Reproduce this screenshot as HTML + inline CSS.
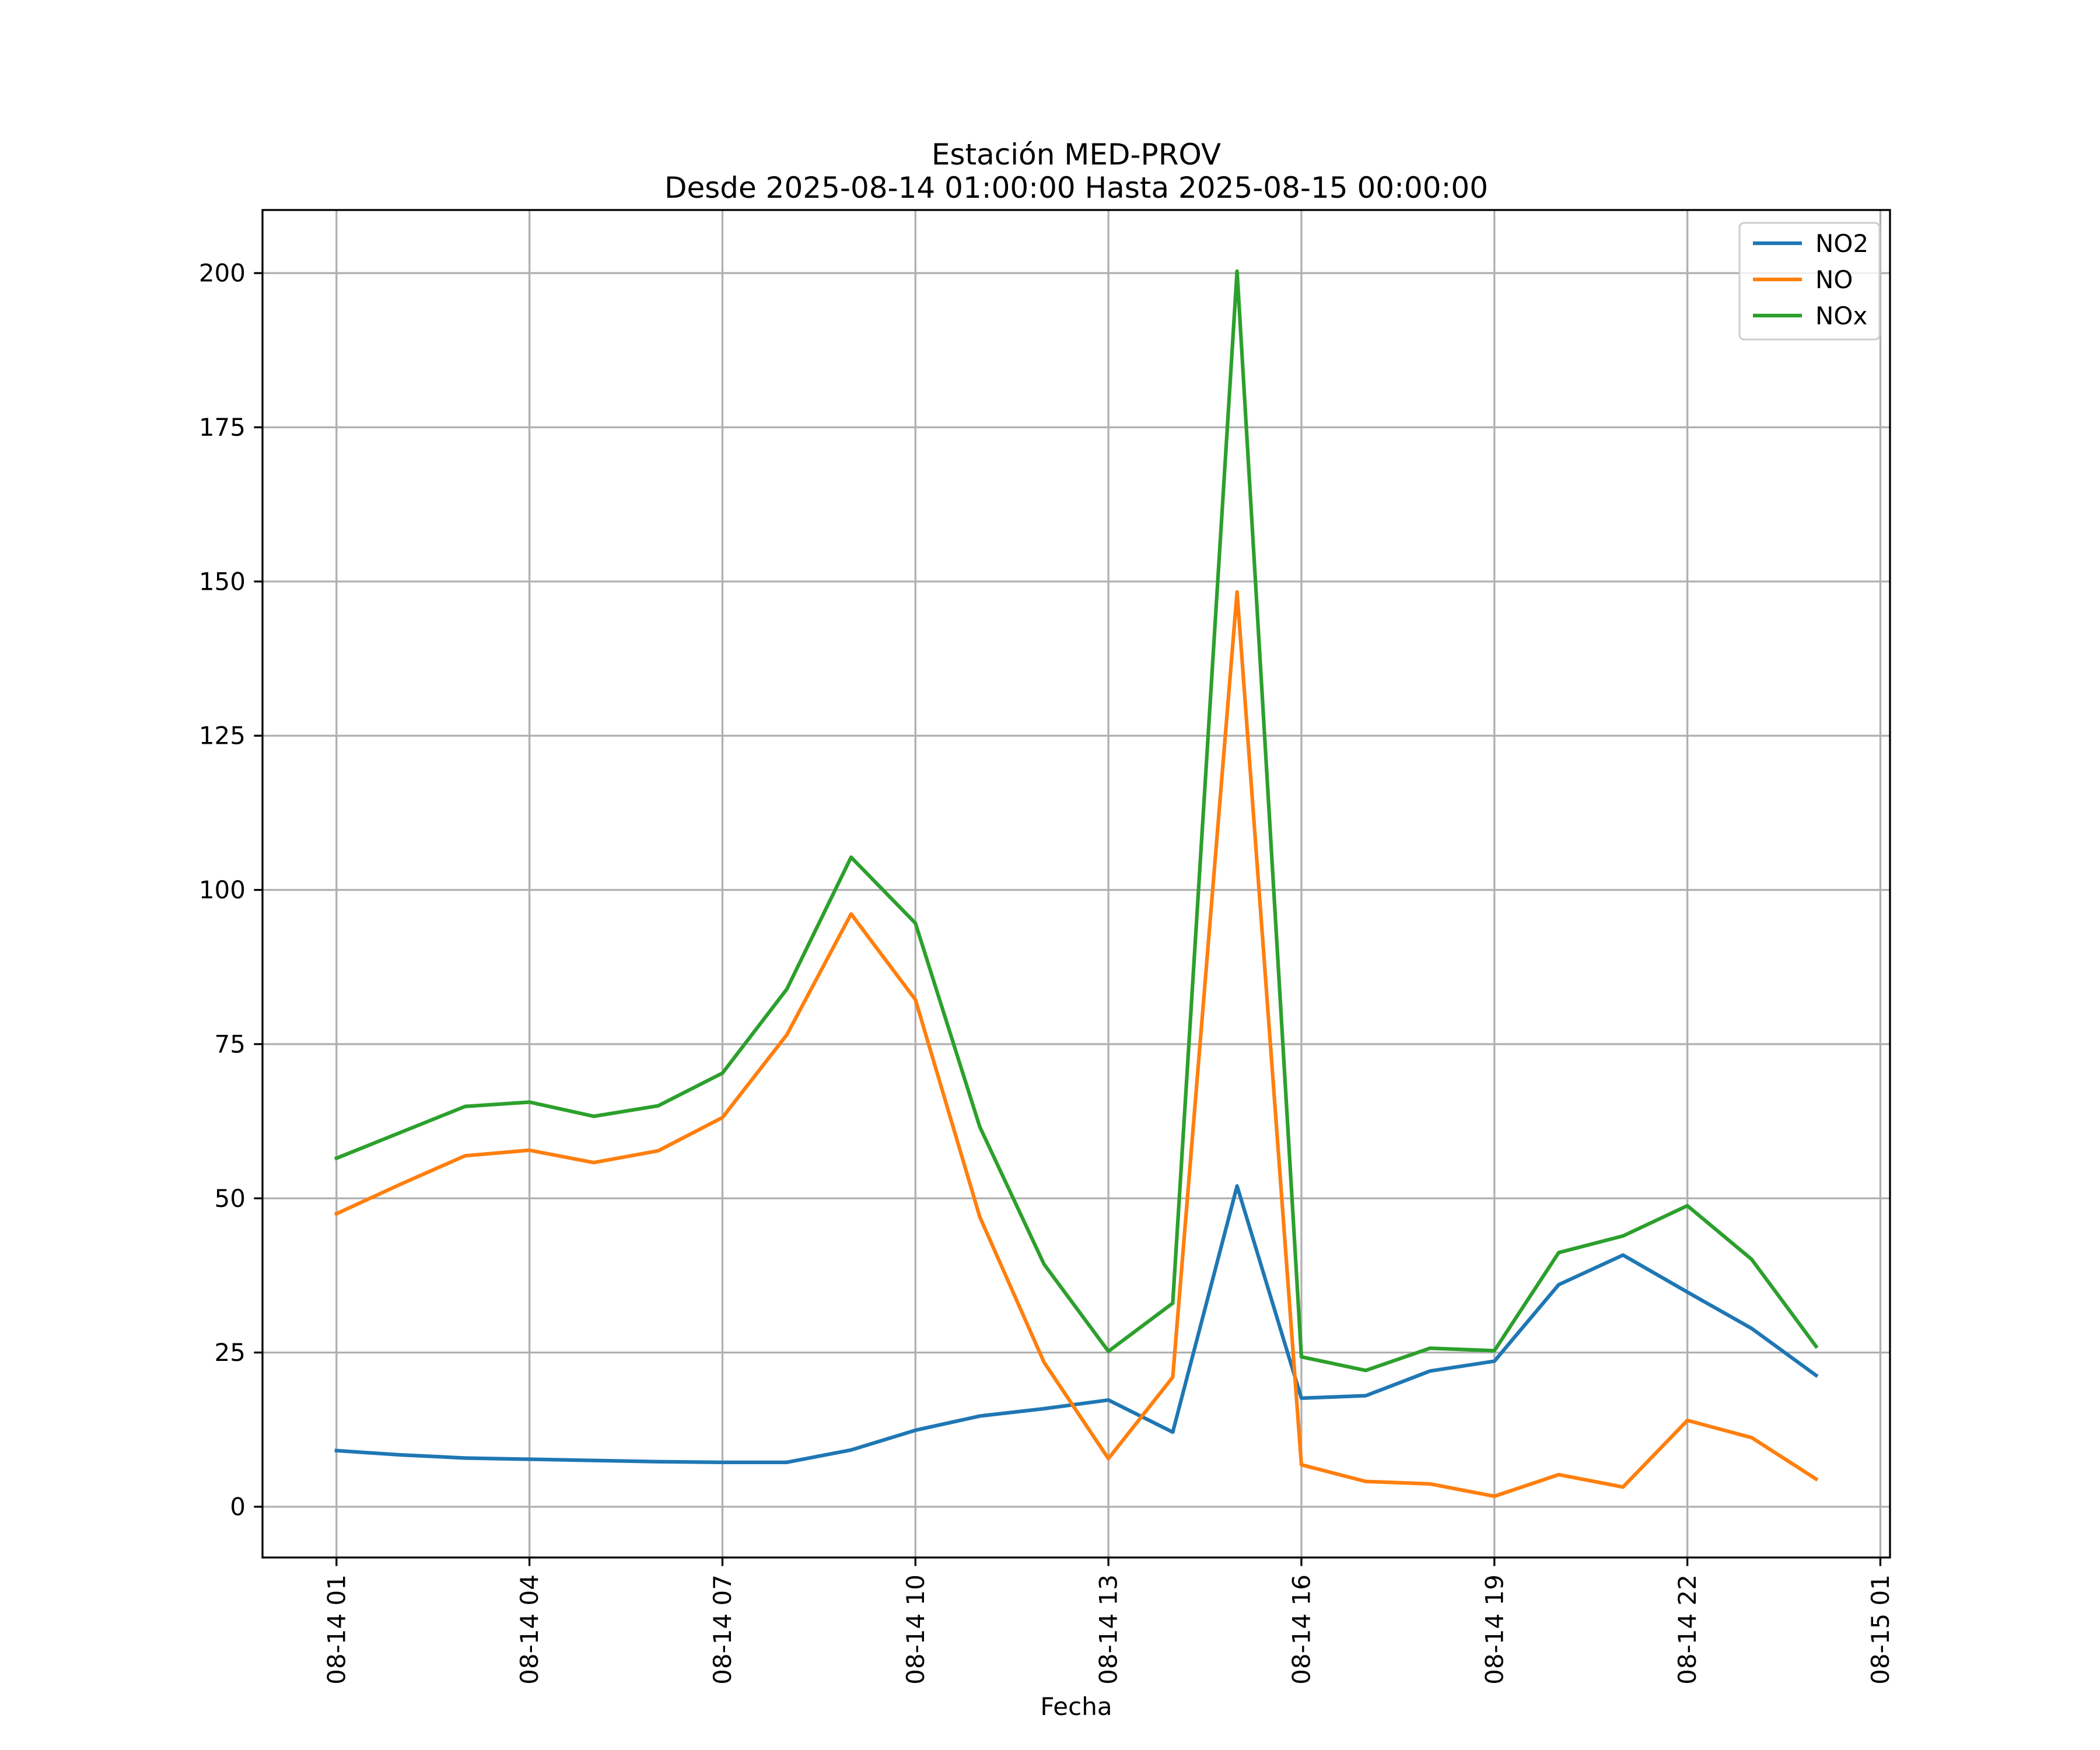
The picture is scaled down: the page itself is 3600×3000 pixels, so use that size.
<!DOCTYPE html>
<html><head><meta charset="utf-8"><style>html,body{margin:0;padding:0;background:#fff}svg{display:block}text{font-family:"DejaVu Sans","Liberation Sans",sans-serif;fill:#000}</style></head>
<body>
<svg id="chart" width="3600" height="3000" viewBox="0 0 3600 3000" xmlns="http://www.w3.org/2000/svg">
<rect width="3600" height="3000" fill="#fff"/>
<g id="grid"></g>
<g id="lines"></g>
<rect x="450" y="360" width="2790" height="2310" fill="none" stroke="#000" stroke-width="3.3"/>
<g id="axes"></g>
<text x="1845" y="282" font-size="50" text-anchor="middle">Estación MED-PROV</text>
<text x="1845" y="339" font-size="50" text-anchor="middle">Desde 2025-08-14 01:00:00 Hasta 2025-08-15 00:00:00</text>
<text x="1845" y="2940" font-size="42" text-anchor="middle">Fecha</text>
<g>
<rect x="2982" y="382" width="240" height="200" rx="8" fill="#fff" fill-opacity="0.8" stroke="#ccc" stroke-width="3"/>
<line x1="3005" y1="417" x2="3089" y2="417" stroke="#1f77b4" stroke-width="6.25"/>
<text x="3112" y="432" font-size="42">NO2</text>
<line x1="3005" y1="479" x2="3089" y2="479" stroke="#ff7f0e" stroke-width="6.25"/>
<text x="3112" y="494" font-size="42">NO</text>
<line x1="3005" y1="541" x2="3089" y2="541" stroke="#2ca02c" stroke-width="6.25"/>
<text x="3112" y="556" font-size="42">NOx</text>
</g>
</svg>
<script>
const hours = [1,2,3,4,5,6,7,8,9,10,11,12,13,14,15,16,17,18,19,20,21,22,23,24];
const no2 = [9.1,8.4,7.9,7.7,7.5,7.3,7.2,7.2,9.2,12.4,14.7,15.9,17.3,12.1,52.0,17.6,18.0,22.0,23.6,36.0,40.8,34.8,28.9,21.3];
const no = [47.5,52.3,56.9,57.8,55.8,57.7,63.1,76.5,96.1,82.2,47.0,23.4,7.8,21.0,148.3,6.8,4.1,3.7,1.7,5.2,3.2,14.0,11.2,4.5];
const nox = [56.5,60.7,64.9,65.6,63.3,65.0,70.3,83.9,105.3,94.6,61.6,39.3,25.2,33.0,200.3,24.3,22.1,25.7,25.3,41.2,43.9,48.8,40.1,26.0];
const xTickHours = [1,4,7,10,13,16,19,22,25];
const xTickLabels = ["08-14 01","08-14 04","08-14 07","08-14 10","08-14 13","08-14 16","08-14 19","08-14 22","08-15 01"];
const yTicks = [0,25,50,75,100,125,150,175,200];

const NS="http://www.w3.org/2000/svg";
const L=450,R=3240,T=360,B=2670;
const all=no2.concat(no,nox);
const mn=Math.min(...all),mx=Math.max(...all),pad=(mx-mn)*0.05;
const y0=mn-pad,y1=mx+pad;
const h0=hours[0],h1=hours[hours.length-1],hp=(h1-h0)*0.05;
const x=h=>L+(h-(h0-hp))/((h1+hp)-(h0-hp))*(R-L);
const y=v=>B-(v-y0)/(y1-y0)*(B-T);
function mk(tag,attrs,parent){const e=document.createElementNS(NS,tag);for(const k in attrs)e.setAttribute(k,attrs[k]);parent.appendChild(e);return e;}
const grid=document.getElementById('grid'),axes=document.getElementById('axes'),lines=document.getElementById('lines');
xTickHours.forEach((h,i)=>{
  const gx=x(h);
  const g=mk('line',{x1:gx,x2:gx,y1:T,y2:B,stroke:'#b0b0b0','stroke-width':3.3},grid);
  
  
  const t=mk('line',{x1:gx,x2:gx,y1:B,y2:B+14.6,stroke:'#000','stroke-width':3.3},axes);
  
  
  const lb=mk('text',{x:0,y:0,'font-size':42,'text-anchor':'end','dominant-baseline':'central',transform:`translate(${gx},${B+29}) rotate(-90)`},axes);
  lb.textContent=xTickLabels[i];
  
  
});
yTicks.forEach(v=>{
  const gy=y(v);
  const g=mk('line',{x1:L,x2:R,y1:gy,y2:gy,stroke:'#b0b0b0','stroke-width':3.3},grid);
  
  
  const t=mk('line',{x1:L-14.6,x2:L,y1:gy,y2:gy,stroke:'#000','stroke-width':3.3},axes);
  
  
  const lb=mk('text',{x:L-29,y:gy,'font-size':42,'text-anchor':'end','dominant-baseline':'central'},axes);
  lb.textContent=String(v);
  
  
});
[[no2,'#1f77b4','line-no2'],[no,'#ff7f0e','line-no'],[nox,'#2ca02c','line-nox']].forEach(([d,c,n])=>{
  const p=mk('polyline',{points:d.map((v,i)=>x(hours[i])+','+y(v)).join(' '),fill:'none',stroke:c,'stroke-width':6.25,'stroke-linejoin':'round','stroke-linecap':'square'},lines);
  
  
});
</script>
</body></html>
